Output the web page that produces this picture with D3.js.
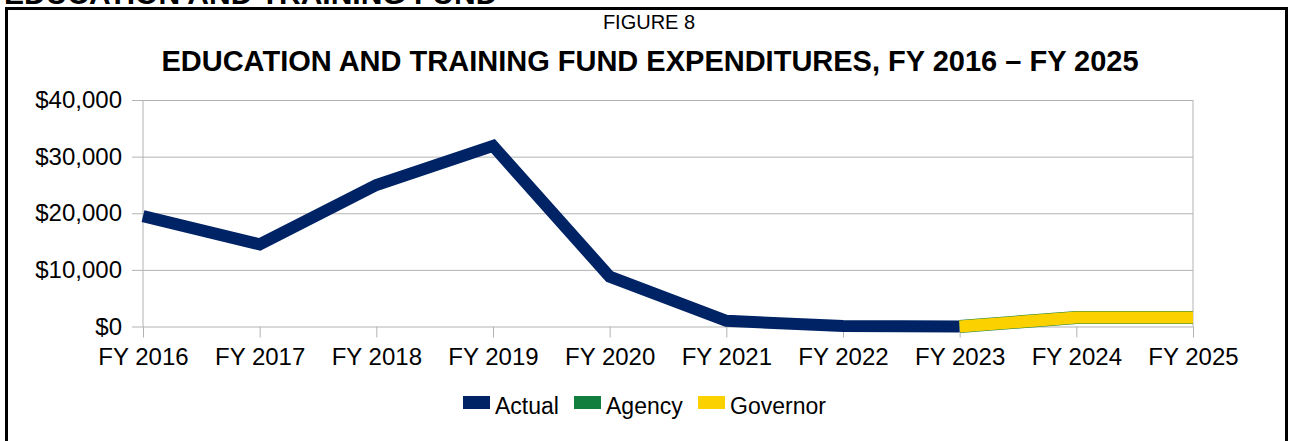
<!DOCTYPE html>
<meta charset="utf-8">
<script src="https://d3js.org/d3.v7.min.js"></script>
<style>
  body { margin: 0; background: #fff; }
  text { font-family: "Liberation Sans", Arial, sans-serif; }
</style>
<div id="chart"></div>
<script>

    // fiscal years on the x axis
    var years = ["FY 2016", "FY 2017", "FY 2018", "FY 2019", "FY 2020",
                 "FY 2021", "FY 2022", "FY 2023", "FY 2024", "FY 2025"];

    // series values (dollars)
    var actualYears = ["FY 2016", "FY 2017", "FY 2018", "FY 2019", "FY 2020", "FY 2021", "FY 2022", "FY 2023"];
    var actual = [19500, 14500, 25000, 31900, 8800, 1000, 100, 0];

    var forecastYears = ["FY 2023", "FY 2024", "FY 2025"];
    var agency = [0, 1600, 1600];
    var governor = [0, 1600, 1600];

    var yTicks = [0, 10000, 20000, 30000, 40000];

    var legendItems = [
        {name: "Actual", color: "#002366"},
        {name: "Agency", color: "#137f3e"},
        {name: "Governor", color: "#fbd100"}
    ];

    var W = 1291, H = 441;
    var plot = {left: 143, right: 1193, top: 100, bottom: 326.5};

    var svg = d3.select("#chart")
        .append("svg")
        .attr("width", W)
        .attr("height", H);

    // section heading above the box (its top is cut off in the original)
    svg.append("text")
        .attr("x", 4)
        .attr("y", 4)
        .style("font-size", "30px")
        .style("font-weight", "bold")
        .text("EDUCATION AND TRAINING FUND");

    // frame
    svg.append("rect")
        .attr("x", 6.5).attr("y", 8.5)
        .attr("width", 1280).attr("height", 460)
        .attr("fill", "none")
        .attr("stroke", "#000")
        .attr("stroke-width", 3);

    svg.append("text")
        .attr("x", 649).attr("y", 29)
        .attr("text-anchor", "middle")
        .style("font-size", "20px")
        .text("FIGURE 8");

    svg.append("text")
        .attr("x", 650).attr("y", 71)
        .attr("text-anchor", "middle")
        .style("font-size", "29px")
        .style("font-weight", "bold")
        .text("EDUCATION AND TRAINING FUND EXPENDITURES, FY 2016 \u2013 FY 2025");

    var x = d3.scalePoint()
        .domain(years)
        .range([plot.left, plot.right]);

    var y = d3.scaleLinear()
        .domain([0, 40000])
        .range([plot.bottom, plot.top]);

    // gridlines + y labels
    var yAxis = svg.append("g")
        .attr("transform", "translate(" + plot.left + ",0)")
        .call(d3.axisLeft(y)
            .tickValues(yTicks)
            .tickFormat(d3.format("$,"))
            .tickSize(-(plot.right - plot.left)));
    yAxis.select(".domain").remove();
    yAxis.selectAll(".tick line")
        .attr("x1", -11)
        .attr("stroke", "#b3b3b3");
    yAxis.selectAll(".tick text")
        .attr("x", -21)
        .style("font-size", "24px")
        .style("font-family", "Liberation Sans, Arial, sans-serif")
        .attr("fill", "#000");

    // x ticks + labels
    var xAxis = svg.append("g")
        .attr("transform", "translate(0," + plot.bottom + ")")
        .call(d3.axisBottom(x).tickSize(11).tickPadding(10));
    xAxis.select(".domain").remove();
    xAxis.selectAll(".tick line").attr("stroke", "#b3b3b3");
    xAxis.selectAll(".tick text")
        .style("font-size", "24px")
        .style("font-family", "Liberation Sans, Arial, sans-serif")
        .attr("fill", "#000");

    // left and right plot edges
    svg.selectAll(".edge")
        .data([plot.left, plot.right])
        .enter().append("line")
        .attr("x1", function(d) { return d; })
        .attr("x2", function(d) { return d; })
        .attr("y1", plot.top)
        .attr("y2", plot.bottom)
        .attr("stroke", "#b3b3b3");

    var line = d3.line()
        .x(function(d) { return x(d[0]); })
        .y(function(d) { return y(d[1]); });

    function drawSeries(labels, values, color, width) {
        svg.append("path")
            .datum(d3.zip(labels, values))
            .attr("d", line)
            .attr("fill", "none")
            .attr("stroke", color)
            .attr("stroke-width", width)
            .attr("stroke-linejoin", "miter");
    }

    drawSeries(actualYears, actual, legendItems[0].color, 12);
    drawSeries(forecastYears, agency, legendItems[1].color, 13);
    drawSeries(forecastYears, governor, legendItems[2].color, 12);

    // legend
    var legendX = [463, 574, 698];
    var lg = svg.selectAll(".legend")
        .data(legendItems)
        .enter().append("g")
        .attr("transform", function(d, i) { return "translate(" + legendX[i] + ",396)"; });
    lg.append("rect")
        .attr("width", 27).attr("height", 13)
        .attr("fill", function(d) { return d.color; });
    lg.append("text")
        .attr("x", 32).attr("y", 18)
        .style("font-size", "23px")
        .text(function(d) { return d.name; });

</script>
